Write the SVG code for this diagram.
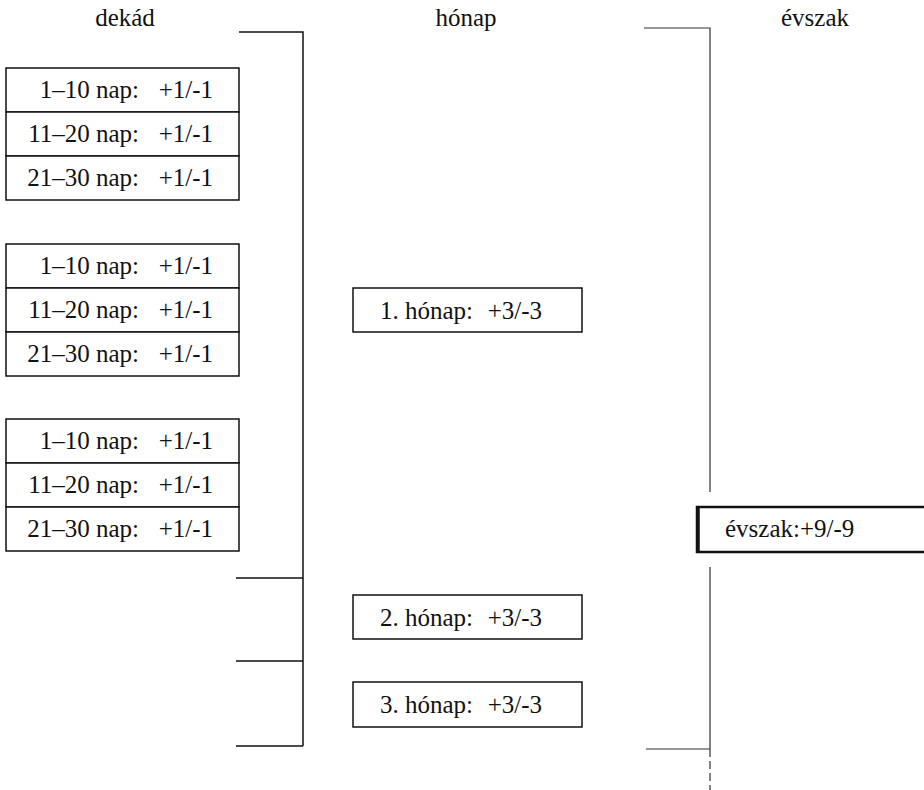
<svg xmlns="http://www.w3.org/2000/svg" width="924" height="790" viewBox="0 0 924 790">
<style>
.t{font-family:'Liberation Serif','Times New Roman','DejaVu Serif',serif;font-size:25px;fill:#111}
.hdr{text-anchor:middle}
.e{text-anchor:end}
.box{fill:#fff;stroke:#111;stroke-width:1.5}
.ln{fill:none;stroke:#111;stroke-width:1.5}
.ln2{fill:none;stroke:#333;stroke-width:1.2}
</style>
<rect width="924" height="790" fill="#fff"/>
<g id="headers" class="t" font-family="Liberation Serif, serif">
<text class="hdr" x="125" y="26">dekád</text>
<text class="hdr" x="466" y="26">hónap</text>
<text class="hdr" x="815" y="26">évszak</text>
</g>
<g id="connectors">
<path class="ln" d="M239,32 H303 V746"/>
<path class="ln" d="M236,578 H303 M236,661 H303 M236,746 H303"/>
<path class="ln2" d="M644,28 H710 V492 M710,567 V749 M646,749 H710"/>
<path class="ln2" d="M710,749 V790" stroke-dasharray="8,4"/>
</g>
<g class="t" font-family="Liberation Serif, serif">
<g id="dekad-group-1">
<g id="d1-1"><rect class="box" x="6" y="68" width="233" height="44"/><text class="e" x="139" y="98">1–10 nap:</text><text class="e" x="213" y="98">+1/-1</text></g>
<g id="d1-2"><rect class="box" x="6" y="112" width="233" height="44"/><text class="e" x="139" y="142">11–20 nap:</text><text class="e" x="213" y="142">+1/-1</text></g>
<g id="d1-3"><rect class="box" x="6" y="156" width="233" height="44"/><text class="e" x="139" y="186">21–30 nap:</text><text class="e" x="213" y="186">+1/-1</text></g>
</g>
<g id="dekad-group-2">
<g id="d2-1"><rect class="box" x="6" y="244" width="233" height="44"/><text class="e" x="139" y="274">1–10 nap:</text><text class="e" x="213" y="274">+1/-1</text></g>
<g id="d2-2"><rect class="box" x="6" y="288" width="233" height="44"/><text class="e" x="139" y="318">11–20 nap:</text><text class="e" x="213" y="318">+1/-1</text></g>
<g id="d2-3"><rect class="box" x="6" y="332" width="233" height="44"/><text class="e" x="139" y="362">21–30 nap:</text><text class="e" x="213" y="362">+1/-1</text></g>
</g>
<g id="dekad-group-3">
<g id="d3-1"><rect class="box" x="6" y="419" width="233" height="44"/><text class="e" x="139" y="449">1–10 nap:</text><text class="e" x="213" y="449">+1/-1</text></g>
<g id="d3-2"><rect class="box" x="6" y="463" width="233" height="44"/><text class="e" x="139" y="493">11–20 nap:</text><text class="e" x="213" y="493">+1/-1</text></g>
<g id="d3-3"><rect class="box" x="6" y="507" width="233" height="44"/><text class="e" x="139" y="537">21–30 nap:</text><text class="e" x="213" y="537">+1/-1</text></g>
</g>
<g id="honap-1"><rect class="box" x="353" y="288" width="229" height="44"/><text x="380" y="319">1. hónap:</text><text class="e" x="542" y="319">+3/-3</text></g>
<g id="honap-2"><rect class="box" x="353" y="595" width="229" height="44"/><text x="380" y="626">2. hónap:</text><text class="e" x="542" y="626">+3/-3</text></g>
<g id="honap-3"><rect class="box" x="353" y="682" width="229" height="45"/><text x="380" y="713">3. hónap:</text><text class="e" x="542" y="713">+3/-3</text></g>
<g id="evszak">
<rect x="697" y="507" width="240" height="45" fill="#fff" stroke="#111" stroke-width="2.5"/>
<line x1="698" y1="506" x2="698" y2="553" stroke="#111" stroke-width="3.5"/>
<text x="725" y="537">évszak:+9/-9</text>
</g>
</g>
</svg>
